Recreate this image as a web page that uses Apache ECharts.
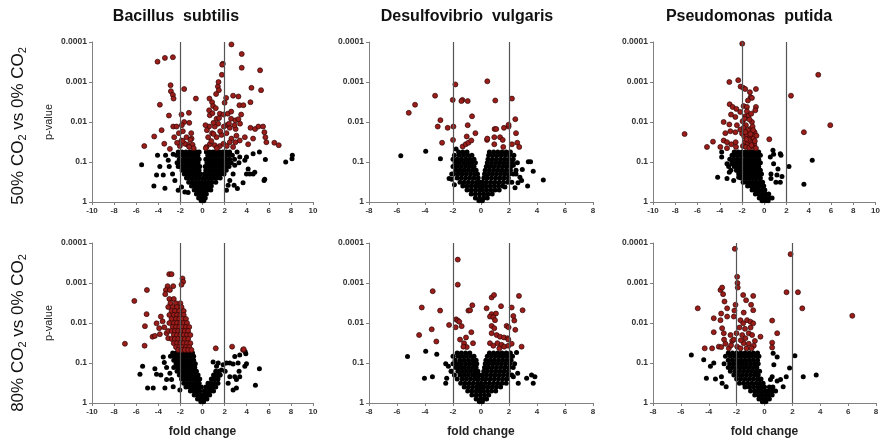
<!DOCTYPE html>
<html>
<head>
<meta charset="utf-8">
<script src="https://cdn.jsdelivr.net/npm/echarts@6/dist/echarts.min.js"></script>
<style>html,body{margin:0;padding:0;background:#fff;}#c{width:883px;height:442px;}</style>
</head>
<body>
<div id="c"></div>
<script>
// ---------- labels ----------
const speciesTitles = ['Bacillus  subtilis', 'Desulfovibrio  vulgaris', 'Pseudomonas  putida'];
const yTickLabels = ['1', '0.1', '0.01', '0.001', '0.0001'];
const xLabel = 'fold change';
const yLabel = 'p-value';

// ---------- Bacillus subtilis, 50% vs 0% ----------
const bs50Red = [[2.62,0.000115],[3.55,0.0002],[3.55,0.00044],[1.84,0.00035],[1.78,0.00037],[1.75,0.00066],[5.21,0.00051],
[-3.4,0.00025],[-2.68,0.00024],[-4.07,0.00031],[-2.89,0.0012],[-2.86,0.0017],[-2.68,0.0021],[-2.62,0.0026],[-1.66,0.0015],[-0.6,0.0026],[-3.86,0.0037],[-3.04,0.0069],[-3.7,0.016],[-4.37,0.023],[-5.27,0.04],[-3.46,0.035],[-2.65,0.013],[-2.35,0.013],[-1.9,0.0065],[-1.66,0.01],[-1.23,0.0059],[-1.2,0.0105],[-1.78,0.017],[-2.14,0.019],[-2.56,0.024],[-1.9,0.029],[-1.45,0.024],[-0.99,0.026],[-1.02,0.019],[-1.36,0.037],[-0.9,0.037],[-2.05,0.04],[-2.95,0.047],[-1.87,0.012],
[-1.6,0.035],[-1.2,0.042],[-0.8,0.045],[-1.8,0.03],[-1.1,0.028],[-2.3,0.033],
[1.39,0.0013],[1.45,0.001],[1.48,0.0016],[1.23,0.002],[0.63,0.0026],[0.87,0.0032],[0.96,0.004],[2.14,0.0025],[2.77,0.0022],[3.25,0.0023],[3.34,0.0038],[3.7,0.0038],[4.34,0.0032],[4.43,0.0014],[5.3,0.0016],[0.6,0.0051],[0.66,0.0068],[1.27,0.0083],[1.57,0.0062],[1.9,0.0065],[2.29,0.0062],[2.59,0.0083],[2.98,0.0091],[3.25,0.0085],[3.4,0.011],[2.17,0.012],[1.93,0.013],[2.47,0.014],[1.42,0.011],[1.11,0.013],[0.99,0.0105],[0.6,0.013],[0.27,0.012],[0.87,0.019],[1.27,0.024],[1.72,0.021],[2.17,0.019],[2.62,0.026],[3.07,0.022],[3.37,0.029],[3.83,0.024],[4.13,0.036],[4.58,0.026],[4.34,0.014],[4.76,0.015],[5.06,0.013],[5.48,0.013],[5.6,0.018],[5.69,0.024],[5.78,0.032],[6.5,0.033],[6.9,0.038],[0.51,0.024],[0.66,0.036],[1.11,0.038],[1.57,0.04],[2.47,0.032],[2.98,0.032],[2.77,0.042],[0.36,0.042],
[0.3,0.045],[0.8,0.03],[1.3,0.045],[1.9,0.035],[2.2,0.04],[1.0,0.02],[1.6,0.017],[2.4,0.011],[0.9,0.006],[1.2,0.0045],[2.0,0.0033],[2.6,0.0055],[3.0,0.015],[3.5,0.0065],[1.5,0.008],[0.4,0.016],[2.9,0.012]];
const bs50Black = [[-5.51,0.117],[-4.07,0.068],[-4.16,0.21],[-4.4,0.4],[-3.4,0.45],[-3.86,0.13],[-3.55,0.21],[-3.34,0.068],[-3.1,0.091],[-2.65,0.064],[-3.01,0.13],[-2.71,0.2],[-2.5,0.29],[-2.2,0.51],[-2.2,0.13],[-2.05,0.091],[-1.9,0.42],[-1.6,0.56],[-1.3,0.58],
[8.13,0.068],[8.1,0.083],[7.53,0.1],[5.69,0.087],[5.63,0.27],[5.57,0.29],[5.15,0.056],[4.73,0.18],[3.98,0.2],[4.13,0.15],[3.67,0.33],[3.16,0.46],[2.86,0.38],[3.83,0.091],[3.37,0.075],[3.98,0.075],[2.92,0.12],[2.77,0.2],[2.47,0.29],[2.32,0.38],[2.17,0.51],[4.58,0.062],[3.13,0.056],[4.28,0.2],[4.58,0.2]];
const bs50Cloud = [
[0.056,[-2.2,-1.85,-1.5,-1.15,-0.85,-0.55,-0.3,0.35,0.65,0.95,1.25,1.55,1.85,2.15,2.45]],
[0.068,[-2.35,-2.0,-1.65,-1.3,-1.0,-0.7,-0.42,0.48,0.8,1.1,1.4,1.7,2.0,2.3,2.7]],
[0.085,[-2.1,-1.75,-1.45,-1.15,-0.85,-0.55,-0.3,0.3,0.6,0.9,1.2,1.5,1.8,2.1,2.45,2.9]],
[0.105,[-2.3,-1.95,-1.6,-1.3,-1.0,-0.7,-0.4,0.4,0.7,1.0,1.3,1.6,1.9,2.2,2.6,3.3]],
[0.13,[-2.05,-1.7,-1.4,-1.1,-0.8,-0.5,-0.25,0.25,0.55,0.85,1.15,1.45,1.75,2.05,2.4]],
[0.16,[-1.85,-1.5,-1.2,-0.9,-0.6,-0.32,0.3,0.6,0.9,1.2,1.5,1.8,2.15]],
[0.2,[-1.65,-1.35,-1.05,-0.75,-0.45,-0.18,0.18,0.45,0.75,1.05,1.35,1.65,1.95]],
[0.25,[-1.45,-1.15,-0.85,-0.55,-0.25,0.1,0.4,0.7,1.0,1.3,1.6]],
[0.32,[-1.25,-0.95,-0.65,-0.35,-0.05,0.25,0.55,0.85,1.2]],
[0.4,[-1.0,-0.7,-0.4,-0.1,0.2,0.5,0.8]],
[0.5,[-0.75,-0.45,-0.15,0.15,0.45,0.75]],
[0.63,[-0.55,-0.25,0.05,0.35]],
[0.79,[-0.35,-0.05,0.25]],
[0.93,[-0.12,0.12]]];

// ---------- Desulfovibrio vulgaris, 50% vs 0% ----------
const dv50Red = [[-1.83,0.00115],[0.45,0.00096],[-3.28,0.0022],[-4.71,0.0037],[-5.16,0.0059],[-2.02,0.0028],[-1.33,0.0028],[-1.4,0.003],[-0.95,0.003],[1.02,0.0029],[2.21,0.0026],[-0.64,0.0072],[-2.9,0.009],[-3.09,0.013],[-2.38,0.014],[-1.97,0.013],[-0.95,0.012],[-2.0,0.028],[-2.78,0.033],[-1.02,0.023],[-0.4,0.019],[-1.31,0.041],[-1.09,0.036],[-0.9,0.033],[-0.69,0.029],[0.43,0.028],[0.97,0.015],[1.09,0.015],[1.64,0.014],[1.97,0.013],[2.45,0.0085],[1.97,0.0117],[2.5,0.019],[2.59,0.033],[2.73,0.042],[2.21,0.036],[0.95,0.036],[1.36,0.024],[1.55,0.028],[0.95,0.024],[0.45,0.026],[1.59,0.042]];
const dv50Black = [[-5.73,0.07],[-3.95,0.054],[-2.9,0.083],[-2.09,0.27],[-2.28,0.26],[-1.9,0.37],[-2.09,0.2],[3.38,0.098],[3.54,0.098],[4.45,0.28],[3.73,0.17],[3.33,0.4],[2.95,0.155],[2.78,0.24],[2.5,0.2],[2.43,0.44],[2.31,0.12],[1.71,0.42],[2.64,0.33],[2.9,0.29],[-1.78,0.047]];
const dv50Cloud = [
[0.056,[-1.6,-1.3,-1.0,0.6,0.9,1.2,1.5,1.8,2.1]],
[0.068,[-1.9,-1.55,-1.25,-0.95,-0.65,0.55,0.85,1.15,1.45,1.75,2.05,2.35]],
[0.085,[-2.0,-1.7,-1.4,-1.1,-0.8,-0.5,0.5,0.8,1.1,1.4,1.7,2.0,2.3]],
[0.105,[-1.85,-1.55,-1.25,-0.95,-0.65,-0.4,0.45,0.75,1.05,1.35,1.65,1.95,2.25,2.6]],
[0.13,[-2.0,-1.7,-1.4,-1.1,-0.8,-0.5,0.38,0.65,0.95,1.25,1.55,1.85,2.15]],
[0.16,[-1.8,-1.5,-1.2,-0.9,-0.6,-0.35,0.3,0.6,0.9,1.2,1.5,1.8,2.1,2.5]],
[0.2,[-1.95,-1.65,-1.35,-1.05,-0.75,-0.45,-0.25,0.25,0.5,0.8,1.1,1.4,1.7,2.0,2.3]],
[0.25,[-1.7,-1.4,-1.1,-0.8,-0.5,-0.2,0.2,0.45,0.75,1.05,1.35,1.65,1.95]],
[0.32,[-1.5,-1.2,-0.9,-0.6,-0.3,-0.1,0.12,0.4,0.7,1.0,1.3,1.6,1.9,2.2]],
[0.4,[-1.3,-1.0,-0.7,-0.4,-0.15,0.1,0.35,0.65,0.95,1.25,1.55]],
[0.5,[-1.0,-0.7,-0.4,-0.12,0.12,0.4,0.7,1.0,1.3]],
[0.63,[-0.7,-0.4,-0.1,0.2,0.5,0.8]],
[0.79,[-0.4,-0.1,0.2,0.45]],
[0.93,[-0.15,0.1]]];

// ---------- Pseudomonas putida, 50% vs 0% ----------
const pp50Red = [[-1.98,0.00011],[4.85,0.00066],[2.4,0.0022],[5.93,0.012],[3.56,0.018],[0.45,0.027],[-7.16,0.02],[-5.15,0.042],[-4.61,0.031],[-3.14,0.001],[-2.34,0.0009],[-2.13,0.0013],[-1.89,0.0014],[-1.71,0.0015],[-0.75,0.0015],[-1.29,0.0018],[-1.23,0.0024],[-1.11,0.0025],[-3.11,0.0036],[-2.84,0.0042],[-2.51,0.0047],[-1.86,0.004],[-1.56,0.0042],[-0.75,0.0042],[-0.81,0.0051],[-2.99,0.0065],[-2.6,0.0075],[-1.71,0.0072],[-1.41,0.0068],[-3.65,0.01],[-3.14,0.0115],[-2.46,0.012],[-1.95,0.0096],[-1.65,0.012],[-1.11,0.01],[-3.5,0.019],[-3.05,0.017],[-2.6,0.018],[-2.16,0.0155],[-1.26,0.015],[-0.87,0.018],[-3.65,0.029],[-3.35,0.032],[-2.96,0.036],[-2.57,0.032],[-3.95,0.042],[-3.35,0.045],[-2.54,0.042],
[-2.0,0.0195],[-1.8,0.023],[-1.56,0.021],[-1.32,0.025],[-1.1,0.021],[-0.96,0.026],[-1.74,0.032],[-1.47,0.035],[-1.2,0.032],[-0.9,0.036],[-1.92,0.04],[-1.65,0.042],[-1.35,0.044],[-1.02,0.042],[-0.75,0.045],[-1.86,0.014],[-1.47,0.016],[-1.05,0.013],[-1.77,0.0083],[-1.32,0.0087],[-1.56,0.0054],[-1.17,0.0062],[-2.16,0.0056],[-1.47,0.0029],
[-1.4,0.028],[-1.15,0.038],[-1.6,0.027],[-0.85,0.03],[-1.25,0.02],[-1.7,0.018],[-0.7,0.022],[-1.0,0.016]];
const pp50Black = [[4.31,0.091],[3.56,0.36],[2.22,0.13],[0.84,0.064],[0.78,0.051],[1.44,0.062],[1.5,0.068],[0.54,0.075],[0.84,0.11],[1.14,0.21],[1.59,0.23],[1.05,0.32],[0.6,0.2],[0.6,0.26],[1.23,0.15],[1.44,0.32],[-4.19,0.24],[-3.35,0.26],[-3.14,0.18],[-3.83,0.056],[-3.83,0.075],[-3.35,0.11],[-2.9,0.11],[-2.75,0.29],[-3.0,0.16],[-2.6,0.062],[-2.46,0.16],[-2.3,0.24]];
const pp50Cloud = [
[0.056,[-2.7,-2.35,-2.0,-1.7,-1.4,-1.1,-0.8,-0.5]],
[0.068,[-2.9,-2.55,-2.2,-1.85,-1.55,-1.25,-0.95,-0.65,-0.35]],
[0.085,[-3.1,-2.75,-2.4,-2.05,-1.7,-1.4,-1.1,-0.8,-0.5]],
[0.105,[-2.9,-2.55,-2.2,-1.85,-1.55,-1.25,-0.95,-0.65,-0.35]],
[0.13,[-3.2,-2.7,-2.35,-2.0,-1.7,-1.4,-1.1,-0.8,-0.5]],
[0.16,[-2.5,-2.15,-1.85,-1.55,-1.25,-0.95,-0.65,-0.35]],
[0.2,[-2.3,-2.0,-1.7,-1.4,-1.1,-0.8,-0.5,-0.25]],
[0.25,[-2.1,-1.8,-1.5,-1.2,-0.9,-0.6,-0.35]],
[0.32,[-1.9,-1.6,-1.3,-1.0,-0.7,-0.4,-0.15]],
[0.4,[-1.5,-1.2,-0.9,-0.6,-0.3,-0.05]],
[0.5,[-1.1,-0.8,-0.5,-0.2,0.05]],
[0.63,[-0.8,-0.5,-0.2,0.1,0.4]],
[0.79,[-0.45,-0.15,0.15,0.45,0.7]],
[0.93,[-0.2,0.1,0.35]]];

// ---------- Bacillus subtilis, 80% vs 0% ----------
const bs80Red = [[-3.01,0.0006],[-2.8,0.0006],[-1.81,0.00077],[-1.75,0.00093],[-1.9,0.0011],[-2.65,0.0012],[-3.16,0.0012],[-3.31,0.0015],[-2.95,0.0015],[-3.37,0.0019],[-5.03,0.0015],[-6.17,0.0028],[-5.06,0.006],[-3.77,0.0069],[-5.21,0.012],[-4.52,0.022],[-4.31,0.021],[-5.24,0.037],[-7.02,0.033],[-3.61,0.0091],[-4.16,0.0102],[-3.92,0.0135],[-3.46,0.0128],[-3.25,0.018],[-3.86,0.019],[-3.1,0.024],[1.2,0.043],[2.68,0.039],[3.67,0.047],[3.73,0.045]];
const bs80RedCloud = [
[0.0025,[-3.0,-2.6]],
[0.0032,[-2.9,-2.4,-2.0]],
[0.004,[-3.1,-2.7,-2.3,-1.9]],
[0.005,[-2.8,-2.5,-2.1,-1.7]],
[0.0063,[-3.0,-2.6,-2.3,-2.0,-1.7]],
[0.0079,[-2.8,-2.4,-2.1,-1.8,-1.5]],
[0.01,[-3.0,-2.6,-2.3,-2.0,-1.7,-1.4]],
[0.0126,[-2.7,-2.4,-2.1,-1.8,-1.5,-1.2]],
[0.0158,[-3.1,-2.8,-2.5,-2.2,-1.9,-1.6,-1.3]],
[0.02,[-2.6,-2.3,-2.0,-1.7,-1.4,-1.1]],
[0.025,[-2.8,-2.5,-2.2,-1.9,-1.6,-1.3]],
[0.032,[-2.6,-2.3,-2.0,-1.7,-1.4,-1.1]],
[0.04,[-2.4,-2.1,-1.8,-1.5,-1.2]],
[0.047,[-2.2,-1.9,-1.6,-1.3,-1.0]]];
const bs80Black = [[-5.42,0.12],[-5.66,0.19],[-4.97,0.42],[-4.46,0.42],[-3.4,0.42],[-4.31,0.14],[-4.16,0.19],[-3.77,0.2],[-3.55,0.071],[-3.46,0.097],[-3.25,0.13],[-2.95,0.18],[-2.8,0.26],[-3.25,0.26],[-2.65,0.39],[-2.41,0.083],[-2.2,0.12],[-2.05,0.47],
[5.15,0.14],[4.79,0.36],[3.86,0.052],[3.92,0.059],[3.37,0.063],[2.92,0.069],[2.47,0.1],[2.77,0.106],[3.22,0.1],[3.83,0.12],[3.98,0.105],[3.31,0.16],[2.92,0.22],[3.37,0.22],[3.07,0.26],[2.77,0.47],[3.07,0.42],[2.17,0.1],[1.87,0.11],[1.42,0.1],[0.96,0.095],[1.27,0.12],[1.72,0.15],[2.05,0.16],[2.47,0.22],[2.32,0.32],[1.57,0.2]];
const bs80Cloud = [
[0.056,[-2.7,-2.4,-2.1,-1.8,-1.5,-1.2,-0.9]],
[0.068,[-2.9,-2.55,-2.25,-1.95,-1.65,-1.35,-1.05,-0.8]],
[0.085,[-2.6,-2.3,-2.0,-1.7,-1.4,-1.1,-0.8]],
[0.105,[-2.4,-2.1,-1.8,-1.5,-1.2,-0.9,-0.65]],
[0.13,[-2.6,-2.2,-1.9,-1.6,-1.3,-1.0,-0.7]],
[0.16,[-2.3,-2.0,-1.7,-1.4,-1.1,-0.8,-0.55,1.2,1.5]],
[0.2,[-2.1,-1.8,-1.5,-1.2,-0.9,-0.6,-0.4,1.0,1.3,1.6]],
[0.25,[-1.9,-1.6,-1.3,-1.0,-0.7,-0.45,-0.25,0.8,1.1,1.4]],
[0.32,[-1.7,-1.4,-1.1,-0.8,-0.55,-0.3,0.5,0.8,1.1,1.4]],
[0.4,[-1.5,-1.2,-0.9,-0.6,-0.35,-0.1,0.3,0.6,0.9,1.2]],
[0.5,[-1.1,-0.8,-0.5,-0.25,0.15,0.45,0.75,1.0]],
[0.63,[-0.75,-0.45,-0.15,0.1,0.4,0.65]],
[0.79,[-0.45,-0.15,0.15,0.4]],
[0.93,[-0.15,0.1]]];

// ---------- Desulfovibrio vulgaris, 80% vs 0% ----------
const dv80Red = [[-1.66,0.00026],[-1.66,0.0011],[-3.45,0.0016],[-4.23,0.0041],[-2.92,0.0049],[-0.62,0.0036],[-0.9,0.0049],[-0.78,0.0048],[-2.28,0.0112],[-1.78,0.0081],[-1.66,0.0087],[-1.81,0.0128],[-1.55,0.0093],[-1.38,0.012],[-3.52,0.0144],[-4.42,0.02],[-3.19,0.029],[-1.5,0.026],[-1.07,0.023],[-0.69,0.017],[-1.21,0.032],[-1.02,0.04],[-1.26,0.039],[-0.57,0.032],[0.76,0.0023],[0.93,0.002],[0.4,0.0043],[0.76,0.006],[1.07,0.0058],[1.43,0.0038],[0.64,0.0069],[0.88,0.0072],[1.0,0.0085],[2.19,0.0041],[2.71,0.0021],[2.97,0.0048],[2.31,0.0067],[2.38,0.0087],[1.83,0.0118],[1.97,0.0128],[2.45,0.0148],[2.9,0.039],[0.76,0.0118],[0.95,0.0135],[0.76,0.018],[1.12,0.02],[1.36,0.022],[1.64,0.023],[1.9,0.024],[0.64,0.032],[0.88,0.037],[1.17,0.032],[1.47,0.035],[1.66,0.039],[1.95,0.037],[2.19,0.033],[1.31,0.043],[1.95,0.026]];
const dv80Black = [[-5.25,0.069],[-3.95,0.051],[-4.04,0.24],[-3.47,0.22],[-3.16,0.06],[-2.52,0.105],[-2.33,0.12],[-2.52,0.32],[-2.45,0.24],[-2.14,0.16],[3.26,0.24],[3.61,0.2],[3.85,0.22],[3.73,0.32],[2.62,0.18],[2.66,0.32],[2.54,0.055],[2.31,0.22]];
const dv80Cloud = [
[0.056,[-1.7,-1.4,-1.1,-0.8,0.6,0.9,1.2,1.5,1.8,2.1]],
[0.068,[-2.0,-1.65,-1.35,-1.05,-0.75,-0.5,0.45,0.75,1.05,1.35,1.65,1.95,2.25]],
[0.085,[-1.85,-1.5,-1.2,-0.9,-0.6,-0.35,0.35,0.65,0.95,1.25,1.55,1.85,2.15]],
[0.105,[-2.0,-1.7,-1.4,-1.1,-0.8,-0.5,-0.3,0.3,0.55,0.85,1.15,1.45,1.75,2.05,2.4]],
[0.13,[-1.8,-1.5,-1.2,-0.9,-0.6,-0.35,0.25,0.5,0.8,1.1,1.4,1.7,2.0,2.3]],
[0.16,[-2.1,-1.65,-1.35,-1.05,-0.75,-0.45,-0.22,0.2,0.45,0.75,1.05,1.35,1.65,1.95]],
[0.2,[-1.9,-1.5,-1.2,-0.9,-0.6,-0.35,-0.12,0.12,0.4,0.7,1.0,1.3,1.6,1.9,2.2]],
[0.25,[-1.7,-1.35,-1.05,-0.75,-0.45,-0.2,0.1,0.35,0.65,0.95,1.25,1.55,1.85]],
[0.32,[-1.45,-1.15,-0.85,-0.55,-0.25,0.0,0.3,0.6,0.9,1.2,1.5,1.8]],
[0.4,[-1.2,-0.9,-0.6,-0.3,-0.05,0.2,0.5,0.8,1.1,1.4]],
[0.5,[-0.95,-0.65,-0.35,-0.1,0.15,0.45,0.75,1.05]],
[0.63,[-0.65,-0.35,-0.05,0.25,0.55]],
[0.79,[-0.35,-0.05,0.2,0.4]],
[0.93,[-0.12,0.1]]];

// ---------- Pseudomonas putida, 80% vs 0% ----------
const pp80Red = [[-2.13,0.00014],[1.87,0.00019],[1.58,0.0017],[2.4,0.0017],[2.71,0.0043],[6.3,0.0066],[-4.79,0.0043],[-3.16,0.0015],[-3.04,0.0013],[-2.97,0.0019],[-1.96,0.0007],[-1.94,0.001],[-1.92,0.0013],[-2.08,0.0035],[-2.16,0.0049],[-1.53,0.002],[-1.32,0.0027],[-0.81,0.0021],[-0.96,0.0035],[-0.81,0.0048],[-1.49,0.0055],[-2.87,0.0029],[-2.68,0.0043],[-2.68,0.0069],[-3.11,0.0058],[-3.64,0.0076],[-3.16,0.0085],[-2.2,0.0069],[-1.72,0.0085],[-1.53,0.0102],[-1.25,0.0085],[-1.01,0.0093],[-0.81,0.0102],[0.55,0.0087],[0.91,0.018],[0.55,0.031],[0.55,0.041],[-0.29,0.022],[-3.64,0.017],[-3.04,0.0135],[-2.92,0.018],[-2.44,0.02],[-2.01,0.018],[-4.29,0.043],[-3.76,0.043],[-3.28,0.039],[-2.8,0.033],[-2.56,0.043],[-2.32,0.028],[-1.96,0.039],[-1.6,0.02],[-1.37,0.024],[-1.13,0.018],[-0.89,0.02],[-1.49,0.032],[-1.13,0.033],[-0.77,0.037],[-1.72,0.043],[-1.29,0.043],[-0.93,0.043],[-0.69,0.028],
[-1.8,0.013],[-1.4,0.014],[-1.0,0.013],[-2.2,0.026],[-2.9,0.026],[-1.7,0.027],[-2.4,0.036],[-3.1,0.04]];
const pp80Black = [[-5.25,0.063],[-4.36,0.083],[-4.17,0.24],[-3.52,0.25],[-3.09,0.22],[-3.04,0.32],[-3.64,0.1],[-3.88,0.12],[-2.75,0.39],[2.18,0.066],[1.8,0.134],[2.78,0.22],[3.71,0.2],[1.56,0.22],[1.15,0.26],[1.34,0.39],[0.91,0.28],[0.62,0.057],[0.91,0.071],[0.67,0.11],[0.55,0.22],[0.43,0.26]];
const pp80Cloud = [
[0.056,[-2.6,-2.3,-2.0,-1.7,-1.4,-1.1,-0.8,-0.5]],
[0.068,[-2.8,-2.45,-2.15,-1.85,-1.55,-1.25,-0.95,-0.65,-0.4]],
[0.085,[-2.6,-2.3,-2.0,-1.7,-1.4,-1.1,-0.8,-0.5]],
[0.105,[-2.9,-2.5,-2.2,-1.9,-1.6,-1.3,-1.0,-0.7,-0.45]],
[0.13,[-2.6,-2.3,-2.0,-1.7,-1.4,-1.1,-0.8,-0.55]],
[0.16,[-2.45,-2.1,-1.8,-1.5,-1.2,-0.9,-0.6,-0.35]],
[0.2,[-2.2,-1.9,-1.6,-1.3,-1.0,-0.7,-0.45]],
[0.25,[-2.0,-1.7,-1.4,-1.1,-0.8,-0.5,-0.25]],
[0.32,[-1.8,-1.5,-1.2,-0.9,-0.6,-0.35,-0.1]],
[0.4,[-1.4,-1.1,-0.8,-0.5,-0.25,0.0,0.35,0.6]],
[0.5,[-1.0,-0.7,-0.45,-0.2,0.05,0.3,0.55,0.8]],
[0.63,[-0.7,-0.45,-0.2,0.05,0.3,0.55]],
[0.79,[-0.4,-0.15,0.1,0.35]],
[0.93,[-0.15,0.1]]];

// thresholds drawn as vertical lines
const foldThresholds = [-2, 2];

// ---------- build ----------
function expand(rows) { const out = []; rows.forEach(r => r[1].forEach(x => out.push([x, r[0]]))); return out; }

const FONT = 'Arial, "Liberation Sans", sans-serif';
const panels = [
  {left: 92,  top: 42,  width: 221, xmin: -10, xmax: 10, red: bs50Red, black: bs50Black.concat(expand(bs50Cloud)), row: 0, col: 0},
  {left: 369, top: 42,  width: 224, xmin: -8,  xmax: 8,  red: dv50Red, black: dv50Black.concat(expand(dv50Cloud)), row: 0, col: 1},
  {left: 653, top: 42,  width: 225, xmin: -10, xmax: 10, red: pp50Red, black: pp50Black.concat(expand(pp50Cloud)), row: 0, col: 2},
  {left: 92,  top: 243, width: 221, xmin: -10, xmax: 10, red: bs80Red.concat(expand(bs80RedCloud)), black: bs80Black.concat(expand(bs80Cloud)), row: 1, col: 0},
  {left: 369, top: 243, width: 224, xmin: -8,  xmax: 8,  red: dv80Red, black: dv80Black.concat(expand(dv80Cloud)), row: 1, col: 1},
  {left: 653, top: 243, width: 223, xmin: -8,  xmax: 8,  red: pp80Red, black: pp80Black.concat(expand(pp80Cloud)), row: 1, col: 2}
];

const grids = [], xAxes = [], yAxes = [], series = [];
panels.forEach((p, i) => {
  grids.push({left: p.left, top: p.top, width: p.width, height: 160, containLabel: false});
  xAxes.push({
    type: 'value', gridIndex: i, min: p.xmin, max: p.xmax, interval: 2,
    axisLine: {onZero: false, lineStyle: {color: '#808080', width: 1}},
    axisTick: {show: true, length: 3, lineStyle: {color: '#808080'}},
    splitLine: {show: false},
    axisLabel: {fontSize: 8, fontWeight: 'bold', color: '#333', fontFamily: FONT, margin: 5},
    name: p.row === 1 ? xLabel : '', nameLocation: 'middle', nameGap: 23,
    nameTextStyle: {fontSize: 12, fontWeight: 'bold', color: '#222', fontFamily: FONT}
  });
  yAxes.push({
    type: 'log', logBase: 10, gridIndex: i, min: 0.0001, max: 1, inverse: true,
    axisLine: {show: true, onZero: false, lineStyle: {color: '#808080', width: 1}},
    axisTick: {show: true, length: 3, lineStyle: {color: '#808080'}},
    splitLine: {show: false}, minorTick: {show: false},
    axisLabel: {fontSize: 8.5, fontWeight: 'bold', color: '#333', fontFamily: FONT, margin: 5,
      formatter: v => { const e = Math.round(-Math.log10(v)); return yTickLabels[e] !== undefined ? yTickLabels[e] : ''; }},
    name: p.col === 0 ? yLabel : '', nameLocation: 'middle', nameGap: 38,
    nameTextStyle: {fontSize: 11, color: '#222', fontFamily: FONT}
  });
  series.push({
    type: 'scatter', xAxisIndex: i, yAxisIndex: i, data: [], z: 1, silent: true,
    markLine: {silent: true, symbol: ['none', 'none'], label: {show: false},
      lineStyle: {color: '#555', width: 1.2, type: 'solid'},
      emphasis: {disabled: true},
      data: foldThresholds.map(v => ({xAxis: v}))}
  });
  series.push({type: 'scatter', xAxisIndex: i, yAxisIndex: i, data: p.black, symbolSize: 5, z: 2, silent: true,
    itemStyle: {color: '#000', opacity: 1}});
  series.push({type: 'scatter', xAxisIndex: i, yAxisIndex: i, data: p.red, symbolSize: 5, z: 3, silent: true,
    itemStyle: {color: '#9b1d1a', borderColor: '#2e0606', borderWidth: 0.7, opacity: 1}});
});

const titleX = [176, 467, 749];
const graphics = speciesTitles.map((t, k) => ({
  type: 'text', x: titleX[k], y: 17, silent: true,
  style: {text: t, fontSize: 16, fontWeight: 'bold', fontFamily: FONT, fill: '#111',
    textAlign: 'center', textVerticalAlign: 'middle', align: 'center', verticalAlign: 'middle'}
}));
const rowLabels = [['50%', '0%'], ['80%', '0%']];
const rowY = [126, 333];
rowLabels.forEach((r, k) => {
  graphics.push({
    type: 'text', x: 18, y: rowY[k], rotation: Math.PI / 2, silent: true,
    style: {
      text: '{a|' + r[0] + ' CO}{s|2}{a| vs ' + r[1] + ' CO}{s|2}',
      fontFamily: FONT, fill: '#111',
      textAlign: 'center', textVerticalAlign: 'middle', align: 'center', verticalAlign: 'middle',
      rich: {
        a: {fontSize: 17, fontFamily: FONT, fill: '#111', lineHeight: 22, verticalAlign: 'middle'},
        s: {fontSize: 11, fontFamily: FONT, fill: '#111', lineHeight: 22, verticalAlign: 'bottom', padding: [0, 0, 1, 0]}
      }
    }
  });
});

const chart = echarts.init(document.getElementById('c'), null, {renderer: 'canvas'});
chart.setOption({
  animation: false,
  backgroundColor: '#fff',
  grid: grids, xAxis: xAxes, yAxis: yAxes, series: series,
  graphic: graphics
});
</script>
</body>
</html>
